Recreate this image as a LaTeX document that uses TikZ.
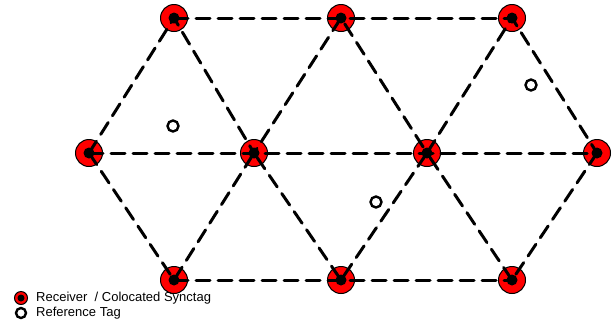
\documentclass[tikz,border=0pt]{standalone}
\usepackage{fontspec}
\setmainfont{Liberation Sans}
\begin{document}
\begin{tikzpicture}[x=1pt,y=-1pt,
    receiver/.style={circle,draw=black,fill=red,line width=1pt,minimum size=27pt,inner sep=0pt},
    reftag/.style={circle,draw=black,fill=white,line width=2.4pt,minimum size=11pt,inner sep=0pt},
    link/.style={line width=3pt,dash pattern=on 14pt off 8pt,line cap=round},
    legtext/.style={anchor=west,inner sep=0pt,font=\fontsize{13}{15}\selectfont}]
    \useasboundingbox (0,0) rectangle (615,325);
    % receivers
    \node[receiver] (t1) at (174,18) {};
    \node[receiver] (t2) at (341,18) {};
    \node[receiver] (t3) at (512,18) {};
    \node[receiver] (m1) at (89,153) {};
    \node[receiver] (m2) at (254,153) {};
    \node[receiver] (m3) at (427,153) {};
    \node[receiver] (m4) at (597,153) {};
    \node[receiver] (b1) at (174,280) {};
    \node[receiver] (b2) at (341,280) {};
    \node[receiver] (b3) at (512,280) {};
    \foreach \n in {t1,t2,t3,m1,m2,m3,m4,b1,b2,b3}
        \fill[black] (\n.center) circle (5.5pt);
    % links
    \draw[link] (t1.center)--(t2.center)--(t3.center);
    \draw[link] (m1.center)--(m2.center)--(m3.center)--(m4.center);
    \draw[link] (b1.center)--(b2.center)--(b3.center);
    \draw[link] (m1.center)--(t1.center)--(m2.center)--(t2.center)--(m3.center)--(t3.center)--(m4.center);
    \draw[link] (m1.center)--(b1.center)--(m2.center)--(b2.center)--(m3.center)--(b3.center)--(m4.center);
    % reference tags
    \node[reftag] (r1) at (173,126) {};
    \node[reftag] (r2) at (531,85) {};
    \node[reftag] (r3) at (376,202) {};
    % legend
    \node[circle,draw=black,fill=red,line width=1pt,minimum size=13pt,inner sep=0pt] (lrec) at (21,298) {};
    \fill[black] (lrec.center) circle (3.5pt);
    \node[legtext] (lrectext) at (36,298) {Receiver\ \ / Colocated Synctag};
    \node[reftag,minimum size=10pt,line width=2.4pt] (lref) at (21,313) {};
    \node[legtext] (lreftext) at (36,313) {Reference Tag};
\end{tikzpicture}
\end{document}
